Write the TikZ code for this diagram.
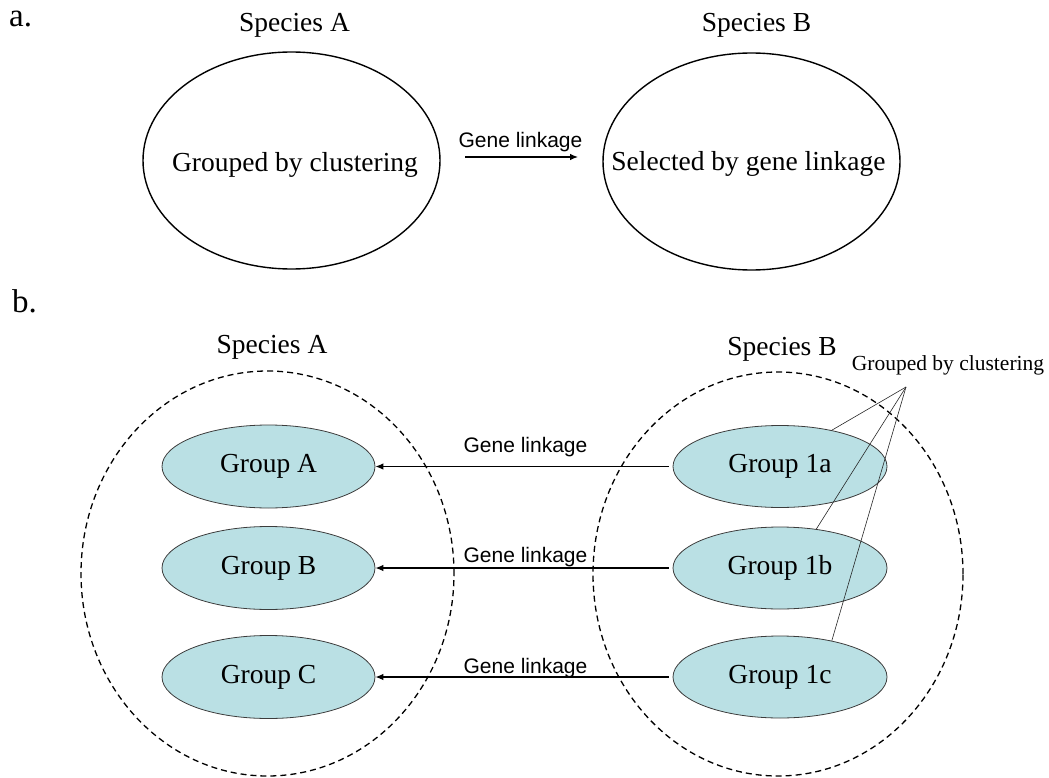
\documentclass[tikz,border=0pt]{standalone}
\usepackage{fontspec}
\setmainfont{Liberation Serif}
\newfontfamily\arialfont{Liberation Sans}
\usetikzlibrary{shapes.geometric,arrows.meta}

\definecolor{groupfill}{RGB}{186,224,228}
\definecolor{groupline}{RGB}{60,60,60}

\tikzset{
  bigtext/.style={font=\fontsize{27.5}{32}\selectfont, inner sep=0pt, anchor=base},
  paneltag/.style={font=\fontsize{33}{38}\selectfont, inner sep=0pt, anchor=base west},
  linktext/.style={font=\arialfont\fontsize{21}{25}\selectfont, inner sep=0pt, anchor=base},
  notetext/.style={font=\fontsize{21.5}{25}\selectfont, inner sep=0pt, anchor=base},
  species/.style={ellipse, draw=black, line width=1.4pt, inner sep=0pt,
    minimum width=297pt, minimum height=217pt},
  pool/.style={ellipse, draw=black, line width=1.3pt, dash pattern=on 6pt off 4pt,
    inner sep=0pt, minimum width=373pt, minimum height=405pt},
  groupbox/.style={ellipse, draw=groupline, line width=0.8pt, fill=groupfill,
    inner sep=0pt, minimum width=213pt, minimum height=83pt,
    font=\fontsize{27.5}{32}\selectfont},
  link/.style={line width=1.1pt, -{Latex[length=8pt,width=6.5pt]}},
  pointer/.style={line width=0.6pt, draw=black!85},
}

\begin{document}
\begin{tikzpicture}[x=1pt, y=-1pt]
\useasboundingbox (0,0) rectangle (1049,778);

% ---------- panel a ----------
\node[paneltag] (tagA) at (9,27) {a.};
\node[bigtext] (spA) at (294.5,32) {Species A};
\node[bigtext] (spB) at (756.5,32) {Species B};
\node[species] (ea) at (291.5,160.5) {};
\node[species] (eb) at (751.5,161.5) {};
\node[bigtext] (ta) at (295,171.5) {Grouped by clustering};
\node[bigtext] (tb) at (748.5,170.5) {Selected by gene linkage};
\coordinate (la1) at (465,157);
\coordinate (la2) at (578,157);
\draw[link] (la1) -- (la2);
\node[linktext] (gl0) at (520.5,148) {Gene linkage};

% ---------- panel b ----------
\node[paneltag] (tagB) at (12,312) {b.};
\node[bigtext] (spA2) at (272,353) {Species A};
\node[bigtext] (spB2) at (782,355) {Species B};
\node[pool] (poolA) at (267.5,573.5) {};
\node[pool, minimum width=370pt, minimum height=404pt] (poolB) at (778,574) {};

\node[groupbox] (gA) at (268.5,466.5) {Group A};
\node[groupbox] (gB) at (268.5,568) {Group B};
\node[groupbox] (gC) at (268.5,677) {Group C};
\node[groupbox, minimum width=214pt, minimum height=82pt] (g1a) at (780,466.5) {Group 1a};
\node[groupbox, minimum width=214pt, minimum height=82pt] (g1b) at (780,568) {Group 1b};
\node[groupbox, minimum width=214pt, minimum height=82pt] (g1c) at (780,677) {Group 1c};

\draw[link, shorten <=4pt] (g1a.west) -- (gA.east);
\draw[link, shorten <=4pt] (g1b.west) -- (gB.east);
\draw[link, shorten <=4pt] (g1c.west) -- (gC.east);
\node[linktext] (gl1) at (525.5,452) {Gene linkage};
\node[linktext] (gl2) at (525.5,562) {Gene linkage};
\node[linktext] (gl3) at (525.5,673) {Gene linkage};

% callout for the clustered groups
\node[notetext] (note) at (948,370) {Grouped by clustering};
\coordinate (apex) at (906,387);
\draw[pointer] (apex) -- (g1a.35);
\draw[pointer] (apex) -- (g1b.47);
\draw[pointer] (apex) -- (g1c.35);
\end{tikzpicture}
\end{document}
